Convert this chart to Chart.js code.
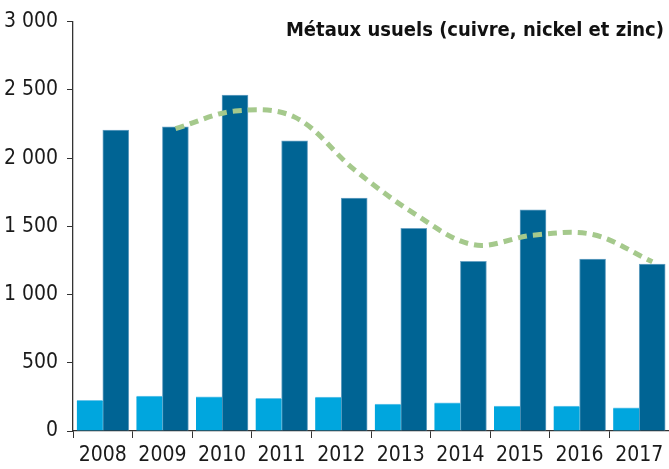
<!DOCTYPE html>
<html>
<head>
<meta charset="utf-8">
<script src="https://cdn.jsdelivr.net/npm/chart.js@4/dist/chart.umd.min.js"></script>
<style>
html,body{margin:0;padding:0;background:#fff;}
#wrap{position:relative;width:669px;height:469px;}
</style>
</head>
<body>
<div id="wrap"><canvas id="c" width="669" height="469"></canvas></div>
<script>
const categories = ['2008','2009','2010','2011','2012','2013','2014','2015','2016','2017'];
const seriesLight = [224, 255, 250, 240, 248, 197, 206, 182, 182, 170];
const seriesDark = [2205, 2228, 2461, 2126, 1706, 1485, 1244, 1620, 1260, 1223];
const seriesTrend = [null, 2215, 2345, 2300, 1915, 1595, 1365, 1435, 1440, 1240];
const yTicks = [0, 500, 1000, 1500, 2000, 2500, 3000];
const titleText = 'Métaux usuels (cuivre, nickel et zinc)';

const FONT = "'DejaVu Sans Condensed', 'Liberation Sans', sans-serif";
const TEXT = '#1a1a1a';
const fmt = v => String(v).replace(/\B(?=(\d{3})+(?!\d))/g, ' ');

const titlePlugin = {
  id: 'cornerTitle',
  afterDraw(chart) {
    const ctx = chart.ctx;
    ctx.save();
    ctx.font = "bold 20px " + FONT;
    ctx.fillStyle = '#111';
    ctx.textAlign = 'right';
    ctx.textBaseline = 'alphabetic';
    ctx.fillText(titleText, 664, 36);
    ctx.restore();
  }
};

new Chart(document.getElementById('c'), {
  type: 'bar',
  data: {
    labels: categories,
    datasets: [
      {
        type: 'line',
        data: seriesTrend.map((v, i) => ({ x: i + 0.22, y: v })),
        xAxisID: 'x2',
        borderColor: '#a5c98c',
        borderWidth: 5,
        borderDash: [9, 6],
        pointRadius: 0,
        tension: 0.35,
        fill: false,
        order: 0
      },
      {
        data: seriesLight,
        backgroundColor: '#00a6de',
        borderColor: '#6cc6ea',
        borderWidth: { top: 1, left: 0, right: 0, bottom: 0 },
        barThickness: 26,
        order: 1
      },
      {
        data: seriesDark,
        backgroundColor: '#006494',
        borderColor: '#6aa3c4',
        borderWidth: { top: 1, left: 1, right: 1, bottom: 0 },
        barThickness: 26,
        order: 1
      }
    ]
  },
  options: {
    responsive: false,
    animation: false,
    layout: { padding: { top: 19, right: -2, left: 0, bottom: 0 } },
    plugins: { legend: { display: false }, tooltip: { enabled: false }, title: { display: false } },
    scales: {
      x: {
        grid: { display: true, drawOnChartArea: false, drawTicks: true, tickLength: 7, color: '#333', offset: true },
        border: { display: true, color: '#333', width: 1.3 },
        ticks: { color: TEXT, font: { family: FONT, size: 21 }, padding: 5, maxRotation: 0, autoSkip: false },
        afterFit(s) { s.height = 38; }
      },
      x2: {
        type: 'linear',
        display: false,
        offset: false,
        min: -0.5,
        max: 9.5
      },
      y: {
        min: 0,
        max: 3000,
        afterBuildTicks(s) { s.ticks = yTicks.map(v => ({ value: v })); },
        grid: { display: true, drawOnChartArea: false, drawTicks: true, tickLength: 6, color: '#333' },
        border: { display: true, color: '#333', width: 1.3 },
        ticks: { color: TEXT, font: { family: FONT, size: 21 }, padding: 9, callback: v => fmt(v) },
        afterFit(s) { s.width = 73; }
      }
    }
  },
  plugins: [titlePlugin]
});
</script>
</body>
</html>
